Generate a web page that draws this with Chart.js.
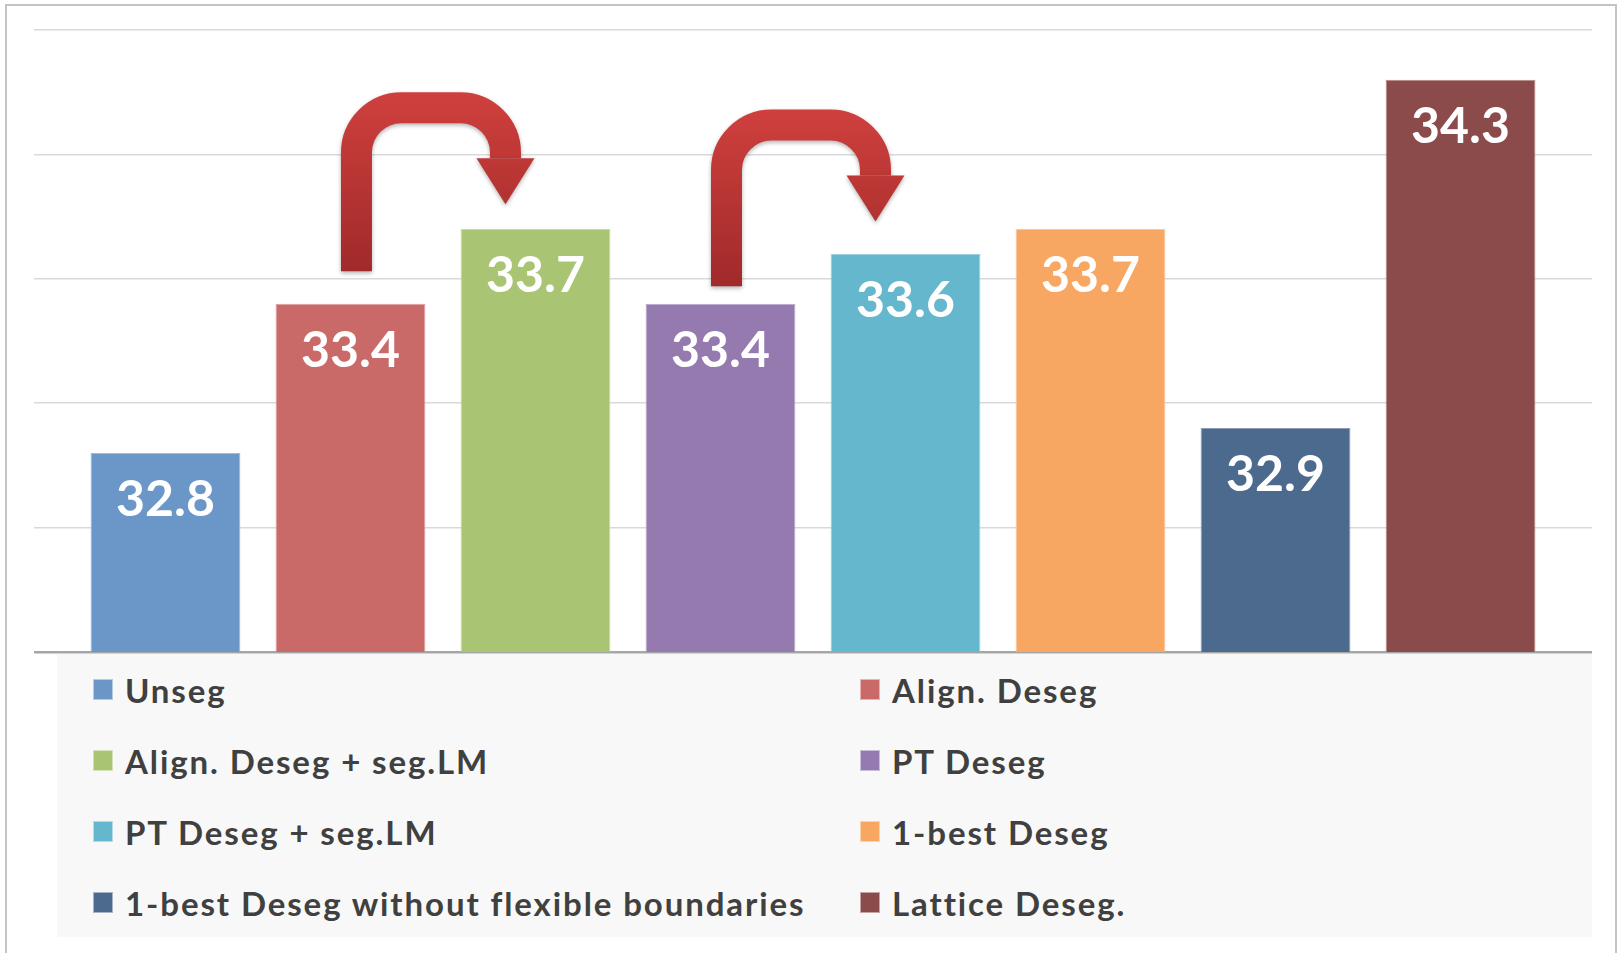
<!DOCTYPE html>
<html>
<head>
<meta charset="utf-8">
<script src="https://cdn.jsdelivr.net/npm/chart.js@4/dist/chart.umd.min.js"></script>
<style>
    html, body { margin: 0; padding: 0; background: #fff; }
    #frame {
        position: absolute; left: 5px; top: 4px; width: 1612px; height: 960px;
        border: 2px solid #c4c4c4; box-sizing: border-box;
    }
    #wrap { position: absolute; left: 0; top: 0; width: 1621px; height: 953px; }
    #legendBox {
        position: absolute; left: 57px; top: 654px; width: 1535px; height: 283px;
        background: #f8f8f8;
        font-family: Lato, "Open Sans", sans-serif; font-weight: 700; font-size: 33px;
        letter-spacing: 1.9px; color: #404040;
    }
    .item { position: absolute; white-space: nowrap; line-height: 40px; }
    .item span.box {
        position: absolute; left: 0; top: 9px; width: 20px; height: 21px; box-sizing: border-box;
        border: 1px solid rgba(255,255,255,0.5);
    }
    .item span.txt { position: absolute; left: 32px; top: 0; }
</style>
</head>
<body>
<div id="frame"></div>
<div id="wrap"><canvas id="barChart" width="1621" height="953"></canvas></div>
<div id="legendBox"></div>
<script>
const seriesNames = ['Unseg', 'Align. Deseg', 'Align. Deseg + seg.LM', 'PT Deseg',
    'PT Deseg + seg.LM', '1-best Deseg', '1-best Deseg without flexible boundaries', 'Lattice Deseg.'];
const seriesValues = [32.8, 33.4, 33.7, 33.4, 33.6, 33.7, 32.9, 34.3];
const seriesColors = ['#6a96c8', '#c96a69', '#a9c574', '#947aaf', '#65b7ce', '#f8a763', '#4c6a8d', '#8b4b4a'];
const yTicks = [32, 32.5, 33, 33.5, 34, 34.5];

// the two red "improvement" arrows: from bar -> to bar, top and bottom in axis units
const arrowFrom = [1, 3];
const arrowTo = [2, 4];
const arrowTop = [34.25, 34.18];
const arrowBottom = [33.53, 33.47];

function lighten(hex, f) {
    let r = parseInt(hex.slice(1, 3), 16), g = parseInt(hex.slice(3, 5), 16), b = parseInt(hex.slice(5, 7), 16);
    r = Math.round(r + (255 - r) * f); g = Math.round(g + (255 - g) * f); b = Math.round(b + (255 - b) * f);
    return `rgb(${r},${g},${b})`;
}

// value labels inside the bars
const valueLabels = {
    id: 'valueLabels',
    afterDatasetsDraw(chart) {
        const ctx = chart.ctx;
        ctx.save();
        ctx.fillStyle = '#ffffff';
        ctx.font = 'bold 50px Lato, "Open Sans", sans-serif';
        ctx.textAlign = 'center';
        ctx.textBaseline = 'middle';
        chart.data.datasets.forEach((ds, i) => {
            const bar = chart.getDatasetMeta(i).data[0];
            ctx.fillText(ds.data[0].toFixed(1), bar.x, bar.y + 47);
        });
        ctx.restore();
    }
};

// curved arrows drawn from bar positions
const curvedArrows = {
    id: 'curvedArrows',
    afterDatasetsDraw(chart) {
        const ctx = chart.ctx;
        const y = chart.scales.y;
        const w = 31, R = 45;
        for (let k = 0; k < arrowFrom.length; k++) {
            const b1 = chart.getDatasetMeta(arrowFrom[k]).data[0];
            const b2 = chart.getDatasetMeta(arrowTo[k]).data[0];
            const xL = b1.x + 6;
            const xR = b2.x - 30;
            const outerTop = y.getPixelForValue(arrowTop[k]);
            const yBot = y.getPixelForValue(arrowBottom[k]);
            const yTop = outerTop + w / 2;
            const yHead = outerTop + 66;
            const grad = ctx.createLinearGradient(0, outerTop, 0, yBot);
            grad.addColorStop(0, '#cf403d');
            grad.addColorStop(1, '#a02a2a');
            ctx.save();
            ctx.shadowColor = 'rgba(0,0,0,0.3)';
            ctx.shadowBlur = 4;
            ctx.shadowOffsetY = 2;
            ctx.strokeStyle = grad;
            ctx.lineWidth = w;
            ctx.lineCap = 'butt';
            ctx.beginPath();
            ctx.moveTo(xL, yBot);
            ctx.lineTo(xL, yTop + R);
            ctx.arcTo(xL, yTop, xL + R, yTop, R);
            ctx.lineTo(xR - R, yTop);
            ctx.arcTo(xR, yTop, xR, yTop + R, R);
            ctx.lineTo(xR, yHead);
            ctx.stroke();
            ctx.fillStyle = grad;
            ctx.beginPath();
            ctx.moveTo(xR - 29, yHead);
            ctx.lineTo(xR + 29, yHead);
            ctx.lineTo(xR, yHead + 46);
            ctx.closePath();
            ctx.fill();
            ctx.restore();
        }
    }
};

document.addEventListener("DOMContentLoaded", function () {
    const ctx = document.getElementById('barChart').getContext('2d');

    const datasets = seriesNames.map((name, i) => ({
        label: name,
        data: [seriesValues[i]],
        backgroundColor: seriesColors[i],
        borderColor: lighten(seriesColors[i], 0.35),
        borderWidth: 1,
        borderSkipped: false,
        categoryPercentage: 0.95,
        barPercentage: 0.81
    }));

    new Chart(ctx, {
        type: 'bar',
        data: { labels: [''], datasets: datasets },
        options: {
            responsive: false,
            animation: false,
            layout: { padding: { left: 34, right: 29, top: 30, bottom: 301 } },
            scales: {
                x: {
                    ticks: { display: false },
                    grid: { display: false, drawTicks: false },
                    border: { display: false }
                },
                y: {
                    min: yTicks[0],
                    max: yTicks[yTicks.length - 1],
                    afterBuildTicks: (axis) => { axis.ticks = yTicks.map(v => ({ value: v })); },
                    ticks: { display: false },
                    grid: {
                        drawTicks: false,
                        color: (c) => c.tick && c.tick.value === yTicks[0] ? '#a6a6a6' : '#d9d9d9',
                        lineWidth: (c) => c.tick && c.tick.value === yTicks[0] ? 2.5 : 1.5
                    },
                    border: { display: false }
                }
            },
            plugins: {
                legend: { display: false },
                tooltip: { enabled: false }
            }
        },
        plugins: [valueLabels, curvedArrows]
    });

    // two-column legend below the plot
    const box = document.getElementById('legendBox');
    seriesNames.forEach((name, i) => {
        const col = i % 2, row = Math.floor(i / 2);
        const item = document.createElement('div');
        item.className = 'item';
        item.style.left = (col === 0 ? 36 : 803) + 'px';
        item.style.top = (16 + row * 71) + 'px';
        item.innerHTML = `<span class="box" style="background:${seriesColors[i]}"></span><span class="txt">${name}</span>`;
        box.appendChild(item);
    });
});
</script>
</body>
</html>
